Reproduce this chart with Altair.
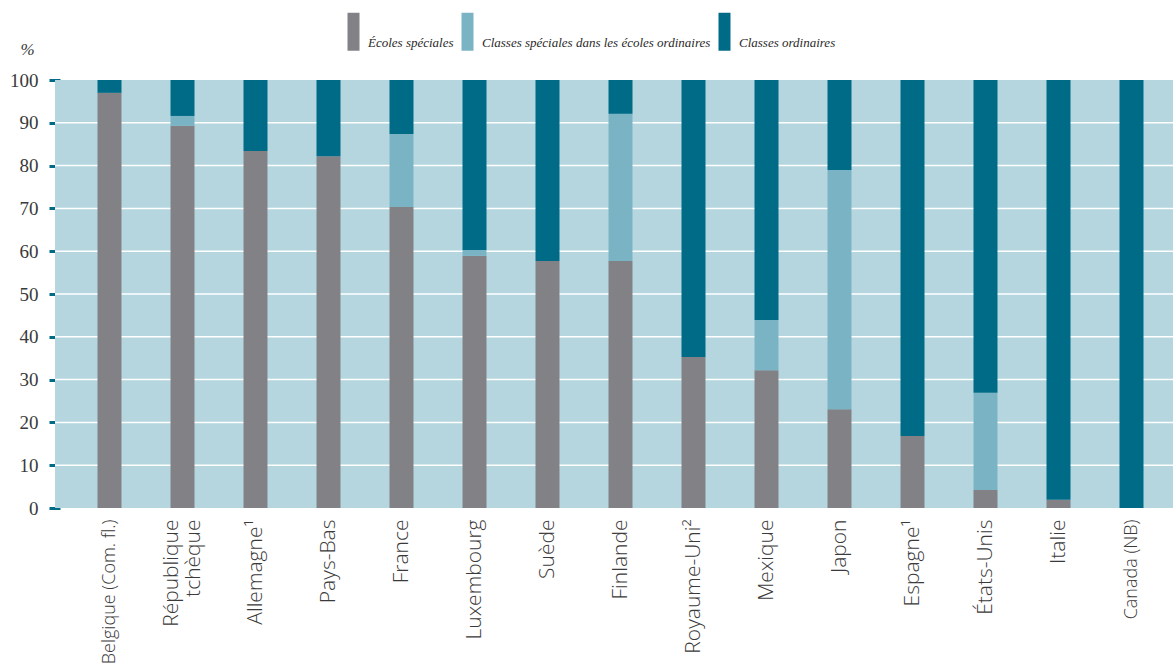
import altair as alt
import pandas as pd

countries = ["Belgique (Com. fl.)", "République\ntchèque", "Allemagne¹", "Pays-Bas", "France",
             "Luxembourg", "Suède", "Finlande", "Royaume-Uni²", "Mexique", "Japon",
             "Espagne¹", "États-Unis", "Italie", "Canada (NB)"]
ecoles_speciales = [97.0, 89.3, 83.4, 82.2, 70.3, 58.9, 57.7, 57.7, 35.3, 32.2, 23.1, 16.8, 4.2, 1.9, 0.0]
classes_speciales = [0.0, 2.3, 0.0, 0.0, 17.1, 1.4, 0.0, 34.4, 0.0, 11.7, 55.9, 0.0, 22.7, 0.0, 0.0]
classes_ordinaires = [3.0, 8.4, 16.6, 17.8, 12.6, 39.7, 42.3, 7.9, 64.7, 56.1, 21.0, 83.2, 73.1, 98.1, 100.0]
series = ["Écoles spéciales", "Classes spéciales dans les écoles ordinaires", "Classes ordinaires"]
colors = ["#818186", "#7ab4c4", "#006b87"]
grid_values = [10, 20, 30, 40, 50, 60, 70, 80, 90]
y_ticks = [0, 10, 20, 30, 40, 50, 60, 70, 80, 90, 100]

rows = []
for i, c in enumerate(countries):
    for k, vals in enumerate([ecoles_speciales, classes_speciales, classes_ordinaires]):
        rows.append({"pays": c, "type": series[k], "ordre": k, "pct": vals[i]})
df = pd.DataFrame(rows)

W, H = 1095, 428

y_axis = alt.Axis(values=y_ticks, grid=False, domain=False, offset=13,
                  tickSize=11, tickWidth=3, tickColor="#006b87",
                  labelFont="Liberation Serif", labelFontSize=19, labelColor="#3a3a3a",
                  labelPadding=11,
                  title="%", titleAngle=0, titleFont="Liberation Serif",
                  titleFontStyle="italic", titleFontWeight="normal", titleFontSize=17,
                  titleColor="#3a3a3a", titleX=-33, titleY=-26, titleAlign="center",
                  titleBaseline="alphabetic")

background = alt.Chart(alt.Data(values=[{}])).mark_rect(color="#b5d6df").encode(
    x=alt.value(-18), x2=alt.value(W + 5), y=alt.value(0), y2=alt.value(H)
)

grid = alt.Chart(pd.DataFrame({"v": grid_values})).mark_rule(color="white", strokeWidth=1.5).encode(
    y=alt.Y("v:Q", scale=alt.Scale(domain=[0, 100], nice=False), axis=y_axis),
    x=alt.value(-18), x2=alt.value(W + 5)
)

legend_symbol = "M-1,-5 H1 V1.33 H-1 Z"

bars = alt.Chart(df).mark_bar(size=24).encode(
    x=alt.X("pays:N", sort=countries, title=None,
            scale=alt.Scale(paddingInner=0, paddingOuter=0),
            axis=alt.Axis(labelAngle=-90, labelAlign="right", labelBaseline="middle",
                          labelExpr="split(datum.label, '\\n')",
                          labelOffset=alt.expr("indexof(datum.value, '\\n') >= 0 ? -11 : 0"),
                          labelFont="Open Sans", labelFontWeight=300,
                          labelFontSize=alt.expr("indexof(datum.value, '(') >= 0 ? 18 : 21"),
                          labelColor="#3a3a3a", labelLineHeight=22, labelPadding=11,
                          domain=False, ticks=False, labelLimit=300)),
    y=alt.Y("pct:Q", stack="zero", scale=alt.Scale(domain=[0, 100], nice=False), axis=y_axis),
    color=alt.Color("type:N", scale=alt.Scale(domain=series, range=colors),
                    legend=alt.Legend(title=None, orient="none", direction="horizontal",
                                      legendX=274, legendY=-44, padding=0,
                                      symbolType=legend_symbol, symbolSize=144,
                                      symbolStrokeWidth=0, symbolOpacity=1,
                                      labelFont="Liberation Serif", labelFontStyle="italic",
                                      labelFontSize=13, labelColor="#2a2a2a",
                                      labelOffset=8, columnPadding=7, labelLimit=400)),
    order=alt.Order("ordre:Q", sort="ascending")
)

chart = alt.layer(background, grid, bars).properties(
    width=W, height=H,
    autosize=alt.AutoSizeParams(type="none"),
    padding={"left": 73, "top": 80, "right": 5, "bottom": 160}
).configure_view(stroke=None)

chart.save("out.html", embed_options={"renderer": "svg", "actions": False})
